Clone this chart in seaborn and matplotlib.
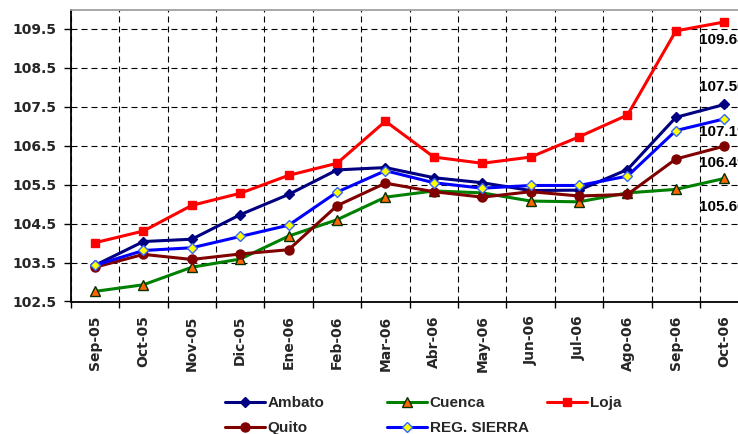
import numpy as np
import pandas as pd
import matplotlib
matplotlib.use('Agg')
import matplotlib.pyplot as plt
import seaborn as sns
from matplotlib.ticker import FixedLocator, MultipleLocator

# ── datos ──────────────────────────────────────────────────────────────────
meses = ['Sep-05', 'Oct-05', 'Nov-05', 'Dic-05', 'Ene-06', 'Feb-06', 'Mar-06',
         'Abr-06', 'May-06', 'Jun-06', 'Jul-06', 'Ago-06', 'Sep-06', 'Oct-06']

ambato = [103.43, 104.04, 104.10, 104.73, 105.25, 105.88, 105.94,
          105.68, 105.55, 105.35, 105.36, 105.89, 107.23, 107.56]
cuenca = [102.76, 102.93, 103.38, 103.59, 104.18, 104.60, 105.18,
          105.34, 105.29, 105.08, 105.06, 105.29, 105.38, 105.66]
loja = [104.01, 104.31, 104.97, 105.28, 105.74, 106.05, 107.13,
        106.21, 106.05, 106.21, 106.73, 107.29, 109.45, 109.68]
quito = [103.38, 103.71, 103.58, 103.72, 103.83, 104.96, 105.54,
         105.32, 105.18, 105.32, 105.21, 105.25, 106.16, 106.49]
sierra = [103.43, 103.81, 103.88, 104.17, 104.46, 105.31, 105.86,
          105.55, 105.41, 105.48, 105.48, 105.72, 106.89, 107.19]

series = ['Ambato', 'Cuenca', 'Loja', 'Quito', 'REG. SIERRA']
valores = [ambato, cuenca, loja, quito, sierra]

# ── estilos ────────────────────────────────────────────────────────────────
estilos = {
    'Ambato':      dict(color='#000080', marker='D', ms=5.5, mfc='#000080', mec='#000080'),
    'Cuenca':      dict(color='#008000', marker='^', ms=7, mfc='#FF6600', mec='#003300'),
    'Loja':        dict(color='#FF0000', marker='s', ms=6, mfc='#FF0000', mec='#FF0000'),
    'Quito':       dict(color='#800000', marker='o', ms=6.5, mfc='#800000', mec='#800000'),
    'REG. SIERRA': dict(color='#0000FF', marker='D', ms=5.5, mfc='#FFFF00', mec='#3366FF'),
}
# desplazamiento vertical (px) de la etiqueta del último punto
offsets = {'Ambato': 17, 'Cuenca': -29, 'Loja': -18, 'Quito': -17, 'REG. SIERRA': -13}

sns.set_style('white')
plt.rcParams['font.family'] = ['DejaVu Sans']
plt.rcParams['font.weight'] = 'bold'

fig = plt.figure(figsize=(7.38, 4.34), dpi=100)
ax = fig.add_axes([70.8 / 738, 1 - 301.5 / 434, 677.7 / 738, 292 / 434])

df = pd.DataFrame({'mes': meses})
lineas = {}
for nombre, vals in zip(series, valores):
    df[nombre] = vals
    st = estilos[nombre]
    sns.lineplot(data=df, x='mes', y=nombre, ax=ax, sort=False,
                 color=st['color'], linewidth=2.2, marker=st['marker'],
                 markersize=st['ms'], markerfacecolor=st['mfc'],
                 markeredgecolor=st['mec'], markeredgewidth=1, label=nombre)
    lineas[nombre] = ax.lines[-1]
    ax.annotate(f'{vals[-1]:.2f}', xy=(meses[-1], vals[-1]),
                xytext=(-2, offsets[nombre]), textcoords='offset pixels',
                ha='center', va='center', fontsize=11, fontweight='bold',
                family=['Liberation Sans', 'DejaVu Sans'], color='black')

ax.get_legend().remove()

# ── ejes ───────────────────────────────────────────────────────────────────
ax.set_xlim(-0.5, len(meses) - 0.5)
ax.set_ylim(102.5, 110.0)
ax.set_xlabel('')
ax.set_ylabel('')

ax.yaxis.set_major_locator(FixedLocator(np.arange(102.5, 109.6, 1.0)))
ax.set_yticklabels([f'{v:.1f}' for v in np.arange(102.5, 109.6, 1.0)],
                   fontsize=10, fontweight='bold')
ax.xaxis.set_minor_locator(MultipleLocator(1, offset=0.5))
ax.tick_params(axis='y', which='major', left=True, length=4.7, width=1,
               pad=5.8, direction='out', color='black')
ax.tick_params(axis='x', which='major', bottom=True, length=0, pad=10,
               labelrotation=90)
ax.tick_params(axis='x', which='minor', bottom=True, length=4, width=1,
               direction='out', color='black')
for lab in ax.get_xticklabels():
    lab.set_fontsize(10)
    lab.set_fontweight('bold')
    lab.set_va('top')

dash = (0, (5.4, 3.6))
ax.grid(False)
for yv in np.arange(103.5, 109.6, 1.0):
    ax.axhline(yv, color='black', lw=0.8, ls=dash, zorder=0.5)
ax.grid(True, axis='x', which='minor', color='black', lw=0.8, ls=dash)

ax.spines['left'].set_color('black')
ax.spines['left'].set_linewidth(1.3)
ax.spines['bottom'].set_color('black')
ax.spines['bottom'].set_linewidth(1.3)
ax.spines['top'].set_color('#A0A0A0')
ax.spines['top'].set_linewidth(1.3)
ax.spines['right'].set_visible(False)

# ── leyenda (3 columnas como en Excel) ──────────────────────────────────────
columnas = [['Ambato', 'Quito'], ['Cuenca', 'REG. SIERRA'], ['Loja']]
x_cols = [225, 387, 547]
fuente_ley = {'family': ['Liberation Sans', 'DejaVu Sans'],
              'weight': 'bold', 'size': 11}
for xc, nombres in zip(x_cols, columnas):
    fig.legend([lineas[n] for n in nombres], nombres, loc='upper left',
               bbox_to_anchor=(xc / 738, 1 - 396 / 434), frameon=False,
               borderpad=0, borderaxespad=0, handlelength=2.6,
               handletextpad=0.2, labelspacing=0.72, prop=fuente_ley)

fig.savefig('out.png', dpi=100)
